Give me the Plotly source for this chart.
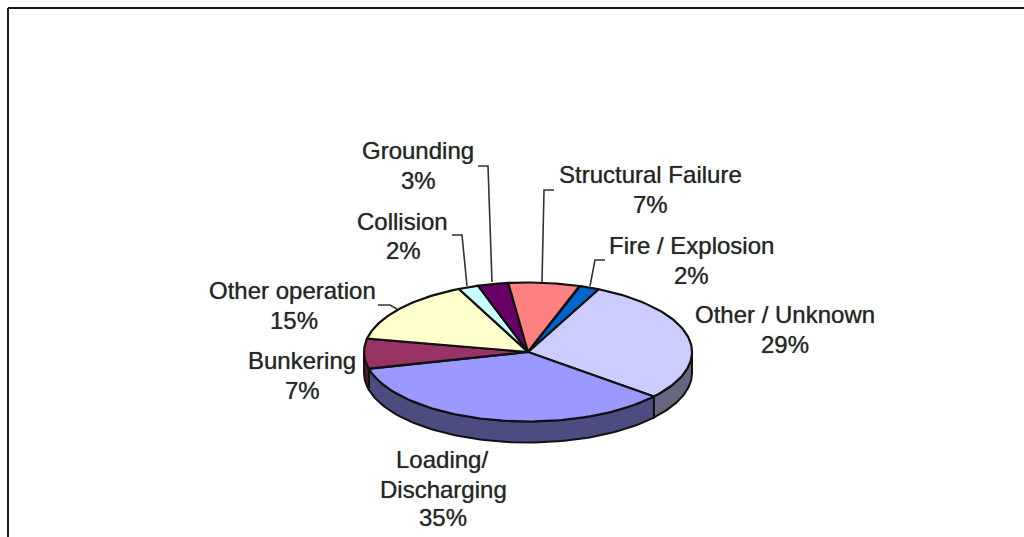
import numpy as np
import plotly.graph_objects as go

categories = ["Other / Unknown", "Loading/<br>Discharging", "Bunkering", "Other operation",
              "Collision", "Grounding", "Structural Failure", "Fire / Explosion"]
values = [29, 35, 7, 15, 2, 3, 7, 2]
top_colors = ["#CCCCFF", "#9999FF", "#993366", "#FFFFCC", "#CCFFFF", "#660066", "#FF8080", "#0066CC"]
side_colors = ["#666680", "#4C4C80", "#4C1933", "#808066", "#668080", "#330033", "#804040", "#003366"]

# Layout constants (page pixels)
CX, CY, RX, RY, DEPTH = 528, 352, 164, 69.5, 21
START_DEG = 25.5
FONT = dict(family="Liberation Sans, Arial, sans-serif", size=24, color="#262626",
            shadow="0 0 1px #666666")
label_lines = [
    [(785, 314), (785, 344)],
    [(442, 459), (443, 489), (443, 517)],
    [(302, 360), (302, 390)],
    [(292, 290), (294, 320)],
    [(402, 221), (403, 250)],
    [(418, 150), (418, 180)],
    [(650, 174), (650, 204)],
    [(691, 245), (691, 275)],
]
leaders = [
    [(478, 166), (488, 166), (492, 282)],
    [(554, 190), (544, 190), (542, 282)],
    [(452, 235), (462, 235), (467, 286)],
    [(378, 305), (390, 305), (397, 309)],
    [(605, 260), (595, 260), (590, 286)],
]


def ell(deg, dz=0):
    a = np.radians(deg)
    return CX + RX * np.sin(a), CY - RY * np.cos(a) + dz


fig = go.Figure()
edges = START_DEG + np.concatenate([[0], np.cumsum(values)]) * 3.6

# side wall: only the front half of the disc
for i in range(len(values)):
    a0, a1 = max(edges[i], 90), min(edges[i + 1], 270)
    if a1 <= a0:
        continue
    t = np.linspace(a0, a1, 80)
    xt, yt = ell(t)
    xb, yb = ell(t[::-1], DEPTH)
    fig.add_trace(go.Scatter(
        x=np.r_[xt, xb, xt[0]], y=np.r_[yt, yb, yt[0]], mode="lines", fill="toself",
        fillcolor=side_colors[i], line=dict(color="#111111", width=2),
        hoverinfo="skip", showlegend=False))

# top face
for i, c in enumerate(categories):
    t = np.linspace(edges[i], edges[i + 1], 80)
    xt, yt = ell(t)
    fig.add_trace(go.Scatter(
        x=np.r_[CX, xt, CX], y=np.r_[CY, yt, CY], mode="lines", fill="toself",
        fillcolor=top_colors[i], line=dict(color="#111111", width=2.2),
        name=c.replace("<br>", " "), hoverinfo="name", showlegend=False))

# leader lines
for pts in leaders:
    fig.add_trace(go.Scatter(
        x=[p[0] for p in pts], y=[p[1] for p in pts], mode="lines",
        line=dict(color="#333333", width=1.6), hoverinfo="skip", showlegend=False))

# labels
annotations = []
for c, v, pos in zip(categories, values, label_lines):
    for (x, y), txt in zip(pos, c.split("<br>") + [f"{v}%"]):
        annotations.append(dict(x=x, y=y, text=txt, showarrow=False, font=FONT,
                                xanchor="center", yanchor="middle"))

frame = dict(color="#1a1a1a", width=2)
shapes = [
    dict(type="line", x0=8, x1=8, y0=8, y1=537, line=frame),
    dict(type="line", x0=8, x1=1024, y0=8, y1=8, line=frame),
]

fig.update_layout(
    width=1024, height=537, margin=dict(l=0, r=0, t=0, b=0),
    paper_bgcolor="white", plot_bgcolor="white",
    xaxis=dict(range=[0, 1024], visible=False, fixedrange=True),
    yaxis=dict(range=[537, 0], visible=False, fixedrange=True),
    annotations=annotations, shapes=shapes,
)
fig.write_html("out.html", config=dict(displayModeBar=False),
               post_script="document.body.style.margin='0';document.documentElement.style.overflow='hidden';")
